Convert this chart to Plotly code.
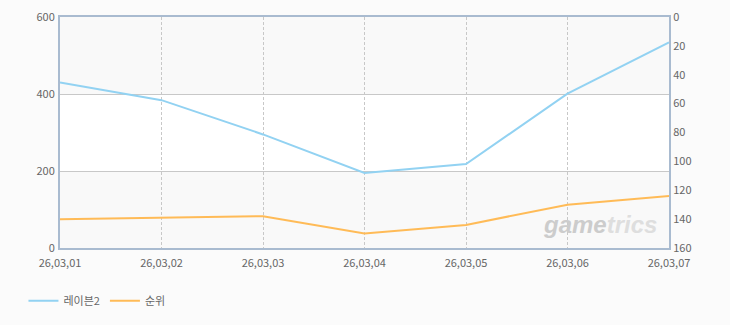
import plotly.graph_objects as go

categories = ["26,03,01", "26,03,02", "26,03,03", "26,03,04", "26,03,05", "26,03,06", "26,03,07"]
raven2_values = [430, 384, 295, 195, 218, 401, 534]
rank_values = [140, 139, 138, 150, 144, 130, 124]
left_ticks = [0, 200, 400, 600]
right_ticks = [0, 20, 40, 60, 80, 100, 120, 140, 160]

FONT = "Noto Sans CJK KR, DejaVu Sans, sans-serif"
AXIS_COLOR = "#a9bbd0"

fig = go.Figure()
fig.add_trace(go.Scatter(x=categories, y=raven2_values, name="레이븐2", mode="lines",
                         line=dict(color="#92d2f2", width=2), yaxis="y"))
fig.add_trace(go.Scatter(x=categories, y=rank_values, name="순위", mode="lines",
                         line=dict(color="#ffbb57", width=2), yaxis="y2"))

shapes = []
for y0, y1, c in [(0, 200, "#f9f9f9"), (200, 400, "#ffffff"), (400, 600, "#f9f9f9")]:
    shapes.append(dict(type="rect", xref="paper", yref="y", x0=0, x1=1, y0=y0, y1=y1,
                       fillcolor=c, line=dict(width=0), layer="below"))

fig.update_layout(
    width=730, height=325,
    margin=dict(l=60, r=61, t=17, b=77, autoexpand=False),
    paper_bgcolor="#fbfbfb",
    plot_bgcolor="rgba(0,0,0,0)",
    font=dict(family=FONT, size=11, color="#666666"),
    shapes=shapes,
    showlegend=True,
    legend=dict(orientation="h", x=-0.06, xanchor="left", y=-0.228, yanchor="middle",
                font=dict(size=11, color="#666666"), bgcolor="rgba(0,0,0,0)", itemwidth=30),
    xaxis=dict(type="category", range=[0, 6], showgrid=True, gridcolor="#c8c8c8",
               griddash="3px,2px", gridwidth=1, showline=True, linecolor=AXIS_COLOR, linewidth=2,
               mirror=True, ticks="", tickfont=dict(size=11, color="#666666"), zeroline=False,
               ticklabelstandoff=4, automargin=False),
    yaxis=dict(range=[0, 600], tickvals=left_ticks, showgrid=True, gridcolor="#c8c8c8",
               gridwidth=1, showline=True, linecolor=AXIS_COLOR, linewidth=2, ticks="",
               zeroline=False, tickfont=dict(size=11, color="#666666"), ticklabelstandoff=1,
               automargin=False),
    yaxis2=dict(range=[160, 0], tickvals=right_ticks, overlaying="y", side="right",
                showgrid=False, showline=True, linecolor=AXIS_COLOR, linewidth=2, ticks="",
                zeroline=False, tickfont=dict(size=11, color="#666666"), automargin=False),
)

fig.add_annotation(xref="paper", yref="paper", x=0.984, y=0.035, xanchor="right", yanchor="bottom",
                   text="<b><i>game</i></b><b><i><span style='color:#dedede'>trics</span></i></b>",
                   showarrow=False,
                   font=dict(family="Liberation Sans, Arial, sans-serif", size=24, color="#cccccc"))

fig.write_html("out.html")
